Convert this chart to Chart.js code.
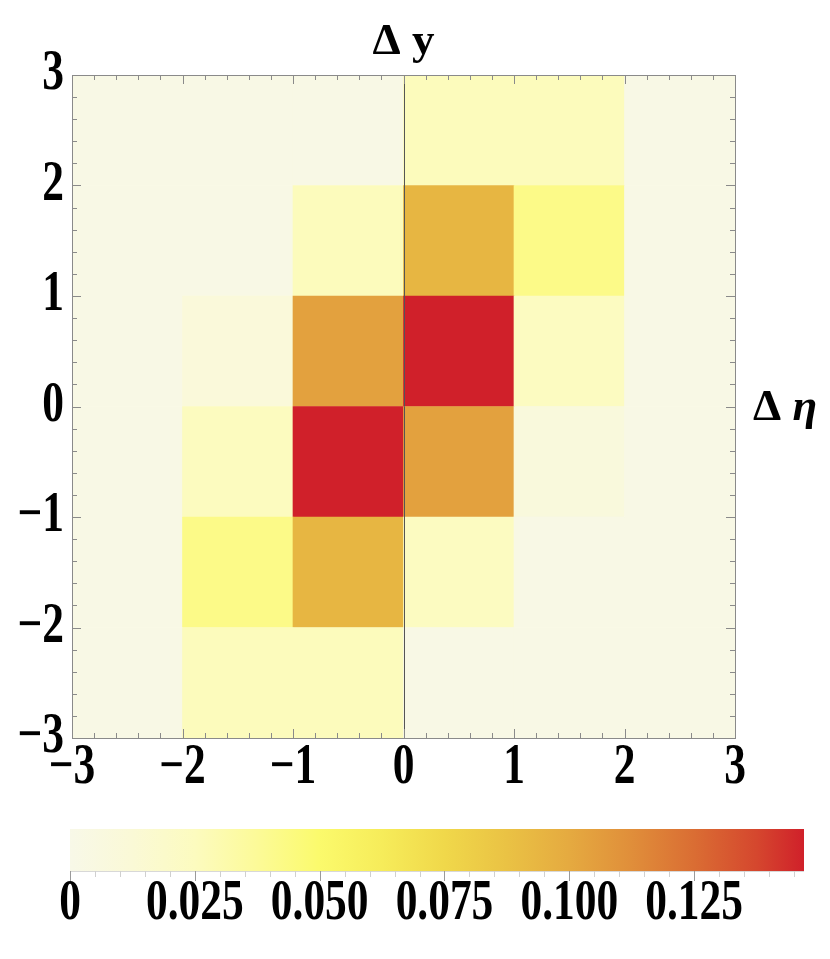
<!DOCTYPE html>
<html>
<head>
<meta charset="utf-8">
<script src="https://cdn.jsdelivr.net/npm/chart.js@4.4.1/dist/chart.umd.min.js"></script>
<style>
    body { margin: 0; background: #fff; }
    #wrap { position: relative; width: 830px; height: 959px; }
    #wrap canvas { position: absolute; left: 0; top: 0; }
</style>
</head>
<body>
<div id="wrap">
    <canvas id="map" width="830" height="959"></canvas>
    <canvas id="legend" width="830" height="959"></canvas>
</div>
<script>
// ---- data ----
const xEdges = [-3, -2, -1, 0, 1, 2, 3];
const yEdges = [-3, -2, -1, 0, 1, 2, 3];
const axisTickLabels = ['\u22123', '\u22122', '\u22121', '0', '1', '2', '3'];

// cell values, one array per Δη row, columns follow xEdges (Δy from -3 to 3)
const rowM3 = [0.002, 0.026, 0.026, 0.002, 0.002, 0.002];  // Δη in [-3,-2]
const rowM2 = [0.002, 0.042, 0.094, 0.024, 0.002, 0.002];  // [-2,-1]
const rowM1 = [0.002, 0.025, 0.147, 0.104, 0.008, 0.002];  // [-1,0]
const rowP0 = [0.002, 0.010, 0.104, 0.147, 0.024, 0.002];  // [0,1]
const rowP1 = [0.002, 0.002, 0.026, 0.094, 0.042, 0.002];  // [1,2]
const rowP2 = [0.002, 0.002, 0.002, 0.026, 0.026, 0.002];  // [2,3]
const rows = [rowM3, rowM2, rowM1, rowP0, rowP1, rowP2];

// colour scale
const cbMax = 0.147;
const cbTicks = [0, 0.025, 0.05, 0.075, 0.1, 0.125];
const cbTickLabels = ['0', '0.025', '0.050', '0.075', '0.100', '0.125'];
const cmapPos = [0, 0.0125, 0.025, 0.0375, 0.05, 0.0625, 0.075, 0.0875, 0.1, 0.1125, 0.125, 0.1375, 0.147];
const cmapColors = ['#f8f8e8', '#faf9d6', '#fcfbbf', '#fcfa98', '#fbfa6c', '#f6ec5a', '#f0d84a',
                    '#eac244', '#e5aa40', '#e08e3a', '#da6d33', '#d5472e', '#d0202a'];

// ---- helpers ----
function hexToRgb(h) {
    return [parseInt(h.slice(1, 3), 16), parseInt(h.slice(3, 5), 16), parseInt(h.slice(5, 7), 16)];
}
function colorFor(v) {
    v = Math.max(cmapPos[0], Math.min(cmapPos[cmapPos.length - 1], v));
    let i = 0;
    while (i < cmapPos.length - 2 && v > cmapPos[i + 1]) i++;
    const t = (v - cmapPos[i]) / (cmapPos[i + 1] - cmapPos[i]);
    const a = hexToRgb(cmapColors[i]), b = hexToRgb(cmapColors[i + 1]);
    const c = a.map((ai, k) => Math.round(ai + (b[k] - ai) * t));
    return `rgb(${c[0]},${c[1]},${c[2]})`;
}

const FONT = '"Liberation Serif", "Times New Roman", serif';
const TICK_FONT = `bold 56px ${FONT}`;
const FRAME = '#8a8a8a';

// tick labels in the reference are tall and narrow, so squeeze them horizontally
function narrowText(ctx, text, x, y, align) {
    ctx.save();
    ctx.translate(x, y);
    ctx.scale(0.775, 1);
    ctx.textAlign = align;
    ctx.fillText(text, 0, 0);
    ctx.restore();
}

// ---- heat map ----
const datasets = rows.map((vals, r) => ({
    data: vals.map((v, i) => ({ x: (xEdges[i] + xEdges[i + 1]) / 2, y: [yEdges[r], yEdges[r + 1]] })),
    backgroundColor: vals.map(colorFor),
    borderWidth: 0,
    barPercentage: 1,
    categoryPercentage: 1,
    grouped: false
}));

const frameAndLabels = {
    id: 'frameAndLabels',
    afterDatasetsDraw(chart) {
        const { ctx, chartArea: a, scales: { x, y } } = chart;
        ctx.save();
        // axis line at Δy = 0
        ctx.strokeStyle = '#555';
        ctx.lineWidth = 1;
        ctx.beginPath();
        ctx.moveTo(Math.round(x.getPixelForValue(0)) + 0.5, a.top);
        ctx.lineTo(Math.round(x.getPixelForValue(0)) + 0.5, a.bottom);
        ctx.stroke();
        // frame
        ctx.strokeStyle = FRAME;
        ctx.strokeRect(Math.round(a.left) + 0.5, Math.round(a.top) + 0.5,
                       Math.round(a.right - a.left), Math.round(a.bottom - a.top));
        // inward ticks on all sides
        for (let k = 0; k <= 30; k++) {
            const v = -3 + k * 0.2;
            const len = k % 5 === 0 ? 9 : 5;
            const px = Math.round(x.getPixelForValue(v)) + 0.5;
            const py = Math.round(y.getPixelForValue(v)) + 0.5;
            ctx.beginPath();
            ctx.moveTo(px, a.bottom); ctx.lineTo(px, a.bottom - len);
            ctx.moveTo(px, a.top); ctx.lineTo(px, a.top + len);
            ctx.moveTo(a.left, py); ctx.lineTo(a.left + len, py);
            ctx.moveTo(a.right, py); ctx.lineTo(a.right - len, py);
            ctx.stroke();
        }
        ctx.restore();
    },
    afterDraw(chart) {
        const { ctx, chartArea: a, scales: { x, y } } = chart;
        ctx.save();
        ctx.fillStyle = '#000';
        ctx.font = TICK_FONT;
        ctx.textBaseline = 'middle';
        // x tick labels
        xEdges.forEach((v, i) => narrowText(ctx, axisTickLabels[i], x.getPixelForValue(v), a.bottom + 31, 'center'));
        // y tick labels
        yEdges.forEach((v, i) => narrowText(ctx, axisTickLabels[i], a.left - 8, y.getPixelForValue(v), 'right'));
        // axis titles
        ctx.font = `bold 45px ${FONT}`;
        ctx.textAlign = 'center';
        ctx.fillText('\u0394 y', (a.left + a.right) / 2, 42);
        ctx.textAlign = 'left';
        ctx.fillText('\u0394 ', a.right + 18, y.getPixelForValue(0) + 2);
        const w = ctx.measureText('\u0394 ').width;
        ctx.font = `italic bold 45px ${FONT}`;
        ctx.fillText('\u03b7', a.right + 18 + w, y.getPixelForValue(0) + 2);
        ctx.restore();
    }
};

new Chart(document.getElementById('map'), {
    type: 'bar',
    data: { datasets },
    options: {
        responsive: false,
        animation: false,
        devicePixelRatio: 1,
        layout: { padding: { left: 72, right: 95, top: 75, bottom: 221 } },
        plugins: { legend: { display: false }, tooltip: { enabled: false } },
        scales: {
            x: { type: 'linear', min: -3, max: 3, offset: false, display: false, ticks: { stepSize: 1 } },
            y: { type: 'linear', min: -3, max: 3, display: false, ticks: { stepSize: 1 } }
        }
    },
    plugins: [frameAndLabels]
});

// ---- colour bar ----
const colorBarTicks = {
    id: 'colorBarTicks',
    afterDraw(chart) {
        const { ctx, chartArea: a, scales: { x } } = chart;
        ctx.save();
        ctx.lineWidth = 1;
        ctx.strokeStyle = '#d8d8d8';
        ctx.beginPath();
        ctx.moveTo(a.left, Math.round(a.bottom) + 0.5);
        ctx.lineTo(a.right, Math.round(a.bottom) + 0.5);
        ctx.stroke();
        for (let k = 0; k * 0.005 <= cbMax; k++) {
            const major = k % 5 === 0;
            const px = Math.round(x.getPixelForValue(k * 0.005)) + 0.5;
            ctx.strokeStyle = major ? '#9a9a9a' : '#d0d0d0';
            ctx.beginPath();
            ctx.moveTo(px, a.bottom);
            ctx.lineTo(px, a.bottom + (major ? 10 : 6));
            ctx.stroke();
        }
        ctx.fillStyle = '#000';
        ctx.font = TICK_FONT;
        ctx.textBaseline = 'middle';
        cbTicks.forEach((v, i) => narrowText(ctx, cbTickLabels[i], x.getPixelForValue(v), 905, 'center'));
        ctx.restore();
    }
};

new Chart(document.getElementById('legend'), {
    type: 'bar',
    data: {
        labels: [''],
        datasets: [{
            data: [[0, cbMax]],
            borderWidth: 0,
            barPercentage: 1,
            categoryPercentage: 1,
            backgroundColor(c) {
                const chart = c.chart;
                if (!chart.chartArea) return cmapColors[0];
                const xs = chart.scales.x;
                const g = chart.ctx.createLinearGradient(xs.getPixelForValue(0), 0, xs.getPixelForValue(cbMax), 0);
                cmapPos.forEach((p, i) => g.addColorStop(p / cbMax, cmapColors[i]));
                return g;
            }
        }]
    },
    options: {
        indexAxis: 'y',
        responsive: false,
        animation: false,
        devicePixelRatio: 1,
        layout: { padding: { left: 70, right: 26, top: 829, bottom: 88 } },
        plugins: { legend: { display: false }, tooltip: { enabled: false } },
        scales: {
            x: { type: 'linear', min: 0, max: cbMax, display: false },
            y: { display: false }
        }
    },
    plugins: [colorBarTicks]
});
</script>
</body>
</html>
